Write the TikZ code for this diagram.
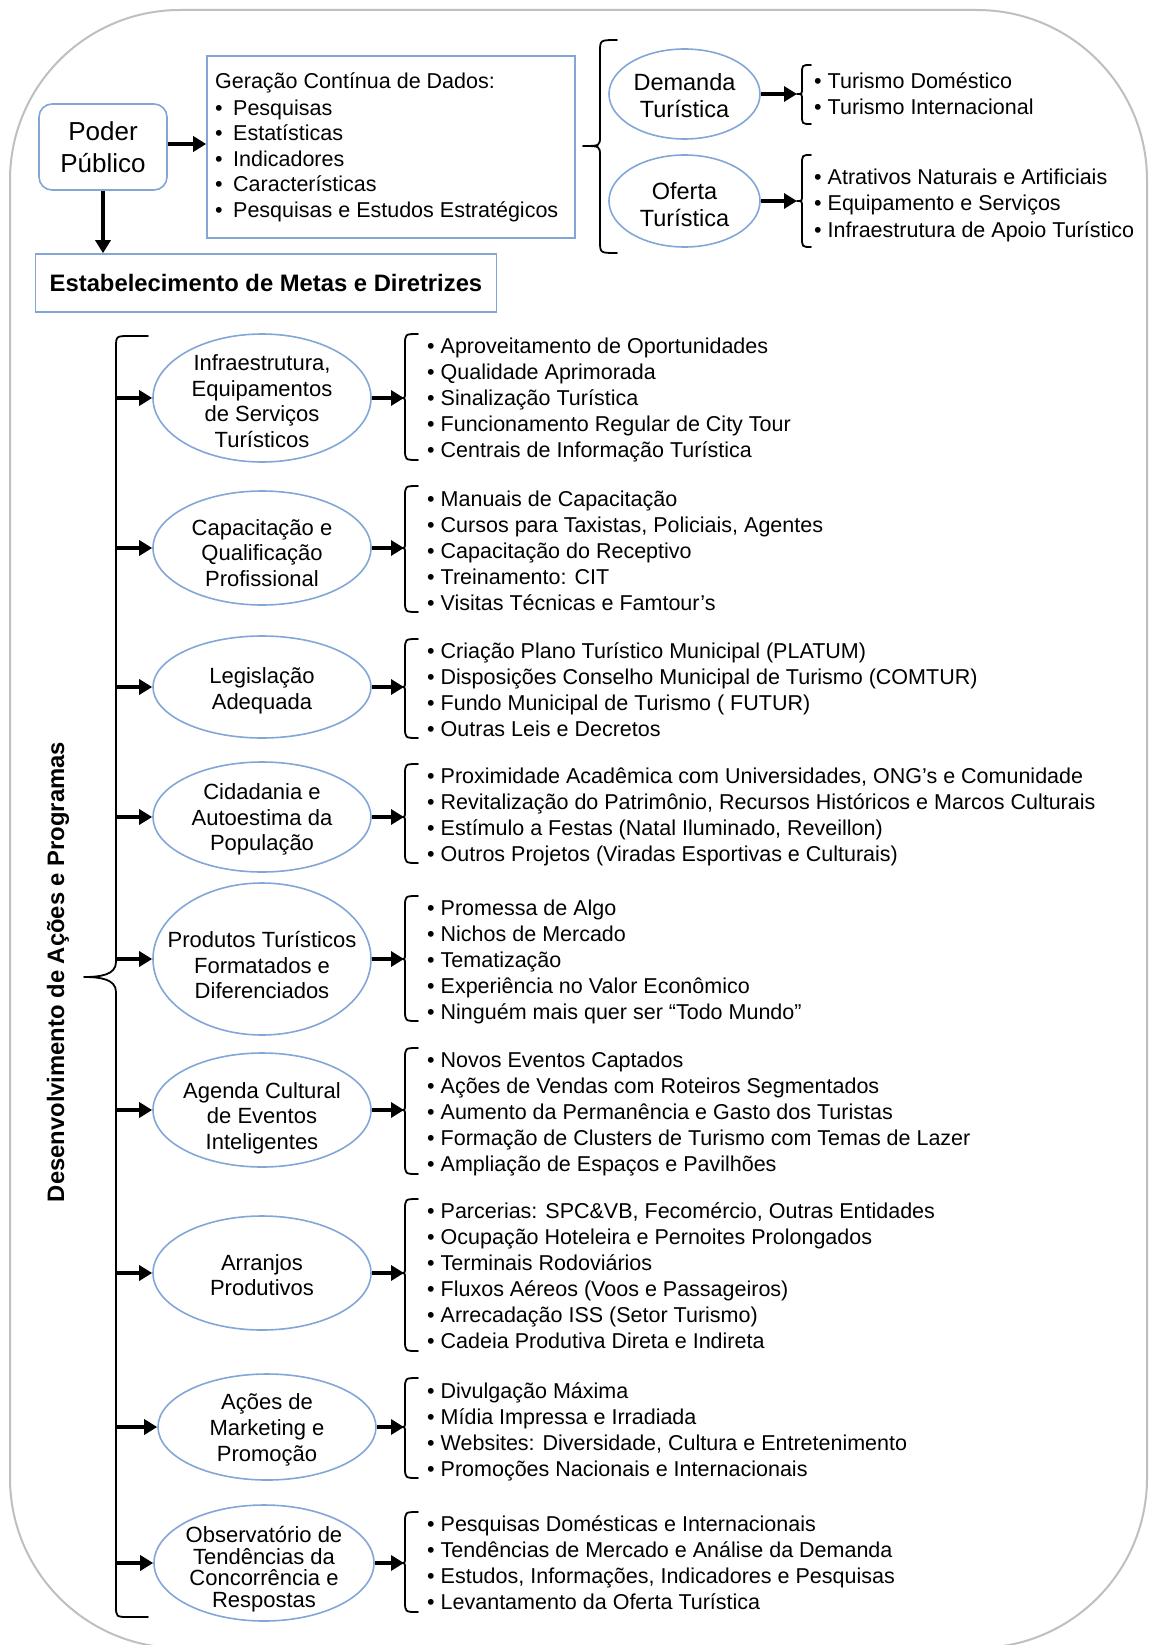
\documentclass[tikz,border=0pt]{standalone}
\usepackage{fontspec}
\setmainfont{Liberation Sans}
\usetikzlibrary{arrows.meta,shapes.geometric}
\definecolor{framegray}{RGB}{191,191,191}
\definecolor{outline}{RGB}{130,166,215}

% curly brace: x of ends, x of spine, x of tip, y top, y tip, y bottom, end radius, tip radius
\newcommand\curlybrace[8]{%
  \draw[brk] (#1,#4) .. controls (#2,#4) .. (#2,{#4+#7}) -- (#2,{#5-#8})
    .. controls (#2,#5) .. (#3,#5) .. controls (#2,#5) .. (#2,{#5+#8})
    -- (#2,{#6-#7}) .. controls (#2,#6) .. (#1,#6);}

% bullet list, one node per line: name, x, first baseline, step, items
\newcommand\bulletlines[5]{%
  \foreach \txt [count=\k] in {#5}
    \node[listtext] (#1-\k) at (#2,{#3+#4*(\k-1)}) {•\ \txt};}

\begin{document}
\begin{tikzpicture}[x=1pt,y=-1pt,
  oval/.style={ellipse, draw=outline, line width=1.6pt, inner sep=0pt},
  ovaltext/.style={align=center, inner sep=0pt, font=\fontsize{22}{25.7}\selectfont},
  box/.style={draw=outline, line width=1.6pt, inner sep=0pt},
  arr/.style={line width=3.2pt, -{Triangle[length=13pt,width=15pt]}},
  brk/.style={line width=1.8pt, line cap=round, line join=round},
  listtext/.style={anchor=base west, inner sep=0pt, font=\fontsize{21.5}{26}\selectfont},
]
\useasboundingbox (0,0) rectangle (1148,1645);
\draw[framegray, line width=2pt, rounded corners=170pt] (10,10) rectangle (1147,1648);

% ---------- upper part ----------
\node[box, rounded corners=13pt, minimum width=128pt, minimum height=86pt,
      align=center, font=\fontsize{26}{31.5}\selectfont] (poder) at (103,147) {Poder\\Público};
\node[box, minimum width=368pt, minimum height=182pt] (gen) at (391,147) {};
\node[listtext] (gen-h) at (215,89) {Geração Contínua de Dados:};
\foreach \txt [count=\k] in {Pesquisas,Estatísticas,Indicadores,Características,Pesquisas e Estudos Estratégicos}
  \node[listtext] (gen-\k) at (215,{89.5+25.6*\k}) {\makebox[18pt][l]{•}\txt};
\node[box, minimum width=461pt, minimum height=58pt,
      font=\bfseries\fontsize{23.8}{27}\selectfont] (metas) at (266,283) {Estabelecimento de Metas e Diretrizes};

\draw[arr] (poder.east |- 0,144) -- (gen.west |- 0,144);
\draw[arr] (poder.south) -- (poder.south |- metas.north);

\curlybrace{617}{600}{583}{40}{146}{253}{12}{10}

\node[oval, minimum width=151pt, minimum height=90pt] (dem) at (684.5,94) {};
\node[align=center, inner sep=0pt, font=\fontsize{23.5}{27}\selectfont, yshift=-2pt]
  (dem-t) at (dem.center) {Demanda\\Turística};
\node[oval, minimum width=151pt, minimum height=92pt] (ofe) at (684.5,201) {};
\node[align=center, inner sep=0pt, font=\fontsize{23.5}{27}\selectfont, yshift=-3.5pt]
  (ofe-t) at (ofe.center) {Oferta\\Turística};
\coordinate (dtip) at (797,94);
\coordinate (otip) at (797,201);
\draw[arr] (dem.east) -- (dtip);
\draw[arr] (ofe.east) -- (otip);
\curlybrace{811}{802}{797}{65}{94}{124}{9}{6}
\curlybrace{811}{802}{797}{155}{201}{247}{10}{6}
\bulletlines{dl}{814}{89}{25.2}{Turismo Doméstico,Turismo Internacional}
\bulletlines{ol}{814}{184.5}{26.3}{Atrativos Naturais e Artificiais,Equipamento e Serviços,Infraestrutura de Apoio Turístico}

% ---------- lower part ----------
\node[rotate=90, inner sep=0pt, font=\bfseries\fontsize{23.8}{27}\selectfont] (dev) at (58,972)
  {Desenvolvimento de Ações e Programas};
\coordinate (spine) at (116,977);
\draw[brk] (148,336) -- (130,336) .. controls (116,336) .. (116,348) -- (116,962)
  .. controls (116,975) and (100,977) .. (84,977) .. controls (100,977) and (116,979) .. (116,992)
  -- (116,1606) .. controls (116,1617) .. (130,1617) -- (148,1617);
\coordinate (rb) at (404,977);

\node[oval, minimum width=218pt, minimum height=128pt] (e1) at (262,398) {};
\node[ovaltext, yshift=-3pt] (e1-t) at (e1.center) {Infraestrutura,\\Equipamentos\\de Serviços\\Turísticos};
\node[oval, minimum width=218pt, minimum height=114pt] (e2) at (262,548) {};
\node[ovaltext, yshift=-5pt] (e2-t) at (e2.center) {Capacitação e\\Qualificação\\Profissional};
\node[oval, minimum width=218pt, minimum height=102pt] (e3) at (262,687) {};
\node[ovaltext, yshift=-4pt] (e3-t) at (e3.center) {Legislação\\Adequada};
\node[oval, minimum width=218pt, minimum height=110pt] (e4) at (262,817) {};
\node[ovaltext, yshift=-2.5pt] (e4-t) at (e4.center) {Cidadania e\\Autoestima da\\População};
\node[oval, minimum width=218pt, minimum height=152pt] (e5) at (262,959) {};
\node[ovaltext, yshift=-6pt] (e5-t) at (e5.center) {Produtos Turísticos\\Formatados e\\Diferenciados};
\node[oval, minimum width=218pt, minimum height=114pt] (e6) at (262,1110) {};
\node[ovaltext, yshift=-8pt] (e6-t) at (e6.center) {Agenda Cultural\\de Eventos\\Inteligentes};
\node[oval, minimum width=218pt, minimum height=114pt] (e7) at (262,1273) {};
\node[ovaltext, yshift=-2pt] (e7-t) at (e7.center) {Arranjos\\Produtivos};
\node[oval, minimum width=218pt, minimum height=106pt] (e8) at (267,1427) {};
\node[ovaltext, yshift=-3pt] (e8-t) at (e8.center) {Ações de\\Marketing e\\Promoção};
\node[oval, minimum width=220pt, minimum height=116pt] (e9) at (264,1563) {};
\node[ovaltext, font=\fontsize{22}{21.5}\selectfont, yshift=-6pt] (e9-t) at (e9.center)
  {Observatório de\\Tendências da\\Concorrência e\\Respostas};

\foreach \e in {e1,e2,e3,e4,e5,e6,e7,e8,e9}{
  \draw[arr] (\e.west -| spine) -- (\e.west);
  \draw[arr] (\e.east) -- (\e.east -| rb);
}

\curlybrace{418}{405}{401}{334}{398}{460}{11}{5}
\bulletlines{l1}{427}{353.5}{26}{Aproveitamento de Oportunidades,Qualidade Aprimorada,Sinalização Turística,Funcionamento Regular de City Tour,Centrais de Informação Turística}
\curlybrace{418}{405}{401}{486}{548}{612}{11}{5}
\bulletlines{l2}{427}{506}{26}{Manuais de Capacitação,{Cursos para Taxistas, Policiais, Agentes},Capacitação do Receptivo,Treinamento: CIT,Visitas Técnicas e Famtour’s}
\curlybrace{418}{405}{401}{639}{687}{738}{11}{5}
\bulletlines{l3}{427}{658}{26}{Criação Plano Turístico Municipal (PLATUM),Disposições Conselho Municipal de Turismo (COMTUR),Fundo Municipal de Turismo ( FUTUR),Outras Leis e Decretos}
\curlybrace{418}{405}{401}{764}{817}{863}{11}{5}
\bulletlines{l4}{427}{783}{26}{{Proximidade Acadêmica com Universidades, ONG’s e Comunidade},{Revitalização do Patrimônio, Recursos Históricos e Marcos Culturais},{Estímulo a Festas (Natal Iluminado, Reveillon)},Outros Projetos (Viradas Esportivas e Culturais)}
\curlybrace{418}{405}{401}{896}{959}{1021}{11}{5}
\bulletlines{l5}{427}{915}{26}{Promessa de Algo,Nichos de Mercado,Tematização,Experiência no Valor Econômico,Ninguém mais quer ser “Todo Mundo”}
\curlybrace{418}{405}{401}{1048}{1110}{1174}{11}{5}
\bulletlines{l6}{427}{1067.5}{26}{Novos Eventos Captados,Ações de Vendas com Roteiros Segmentados,Aumento da Permanência e Gasto dos Turistas,Formação de Clusters de Turismo com Temas de Lazer,Ampliação de Espaços e Pavilhões}
\curlybrace{418}{405}{401}{1199}{1273}{1351}{11}{5}
\bulletlines{l7}{427}{1218.5}{26}{{Parcerias: SPC\&VB, Fecomércio, Outras Entidades},Ocupação Hoteleira e Pernoites Prolongados,Terminais Rodoviários,Fluxos Aéreos (Voos e Passageiros),Arrecadação ISS (Setor Turismo),Cadeia Produtiva Direta e Indireta}
\curlybrace{418}{405}{401}{1378}{1427}{1478}{11}{5}
\bulletlines{l8}{427}{1398}{26}{Divulgação Máxima,Mídia Impressa e Irradiada,{Websites: Diversidade, Cultura e Entretenimento},Promoções Nacionais e Internacionais}
\curlybrace{418}{405}{401}{1512}{1563}{1612}{11}{5}
\bulletlines{l9}{427}{1531}{26}{Pesquisas Domésticas e Internacionais,Tendências de Mercado e Análise da Demanda,{Estudos, Informações, Indicadores e Pesquisas},Levantamento da Oferta Turística}
\end{tikzpicture}
\end{document}
